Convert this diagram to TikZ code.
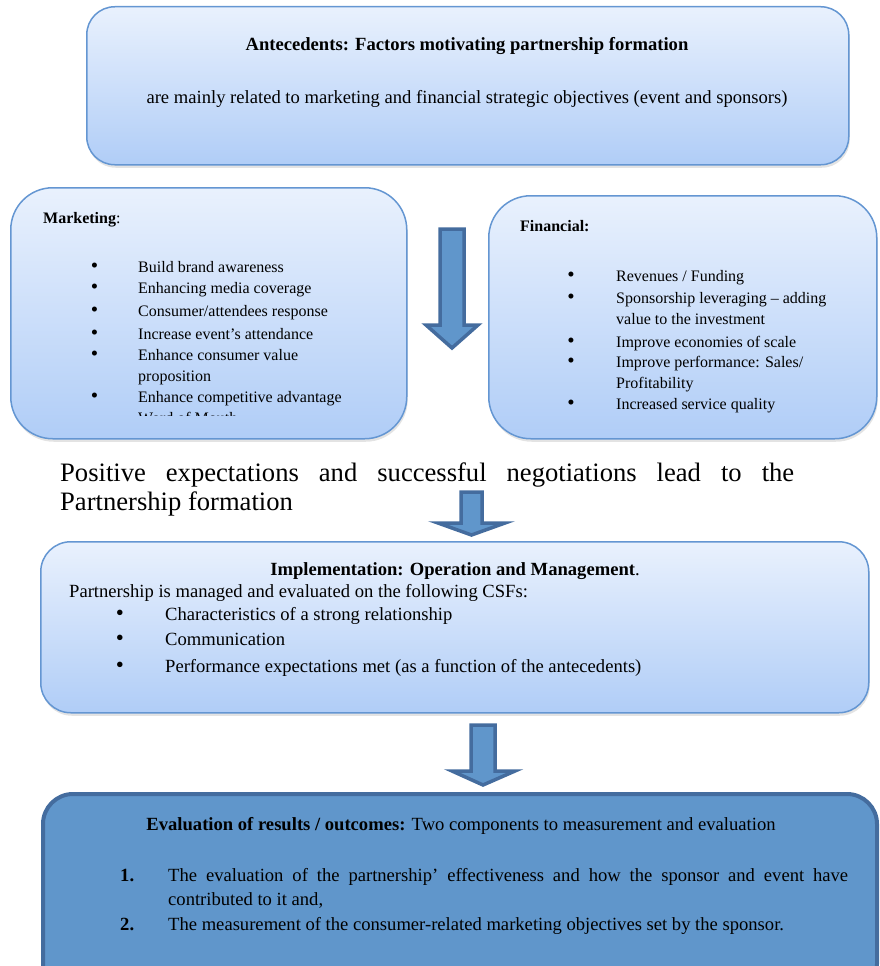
\documentclass[tikz,border=0pt]{standalone}
\usepackage{fontspec}
\setmainfont{Liberation Serif}
\usetikzlibrary{shadows}
\definecolor{lbtop}{RGB}{233,241,253}
\definecolor{lbbot}{RGB}{176,205,247}
\definecolor{lbedge}{RGB}{100,150,210}
\definecolor{dbfill}{RGB}{96,150,203}
\definecolor{dbedge}{RGB}{68,108,158}
\tikzset{
  lightbox/.style={draw=lbedge, line width=1.5pt, top color=lbtop, bottom color=lbbot,
    drop shadow={opacity=0.22, shadow xshift=1pt, shadow yshift=-3pt},
    anchor=north west, inner sep=0pt},
  darkbox/.style={draw=dbedge, line width=4pt, fill=dbfill, anchor=north west, inner sep=0pt},
  blockarrow/.style={fill=dbfill, draw=dbedge, line width=3.5pt, line join=miter},
  txt/.style={inner sep=0pt, anchor=base west},
  ctxt/.style={inner sep=0pt, anchor=base},
  bul/.style={inner sep=0pt, anchor=base},
  listfont/.style={font=\fontsize{16}{19}\selectfont},
  bodyfont/.style={font=\fontsize{18.6}{22}\selectfont},
  boldfont/.style={font=\fontsize{18.6}{22}\selectfont\bfseries},
  bulfont/.style={font=\fontsize{21}{22}\selectfont},
}
\begin{document}
\begin{tikzpicture}[x=1pt,y=-1pt]
\useasboundingbox (0,0) rectangle (880,966);

% ---------- boxes ----------
\node[lightbox, rounded corners=28pt, minimum width=762pt, minimum height=158pt] (ante) at (86,6) {};
\node[lightbox, rounded corners=42pt, minimum width=396pt, minimum height=251pt] (mkt) at (10,187) {};
\node[lightbox, rounded corners=42pt, minimum width=388pt, minimum height=243pt] (fin) at (488,195) {};
\node[lightbox, rounded corners=30pt, minimum width=828pt, minimum height=171pt] (impl) at (40,541) {};
\node[darkbox, rounded corners=30pt, minimum width=834pt, minimum height=200pt] (eval) at (41,792) {};

% ---------- block arrows ----------
\draw[blockarrow] (440,229) -- (464,229) -- (464,325) -- (478,325) -- (452,348) -- (426,325) -- (440,325) -- cycle;
\draw[blockarrow] (461,492) -- (482,492) -- (482,523) -- (505,523) -- (471.5,535) -- (438,523) -- (461,523) -- cycle;
\draw[blockarrow] (471,725) -- (495,725) -- (495,771) -- (515,771) -- (483,785) -- (452,771) -- (471,771) -- cycle;

% ---------- antecedents ----------
\node[ctxt, boldfont] (antetitle) at (467,51) {Antecedents: Factors motivating partnership formation};
\node[ctxt, bodyfont] (antesub) at (467,103) {are mainly related to marketing and financial strategic objectives (event and sponsors)};

% ---------- marketing ----------
\node[txt, font=\fontsize{16}{18}\selectfont] (mkttitle) at (43,223) {\textbf{Marketing}:};
\foreach \y/\t [count=\i] in {272/{Build brand awareness}, 293/{Enhancing media coverage}, 316/{Consumer/attendees response}, 339/{Increase event’s attendance}, 360/{Enhance consumer value}, 402/{Enhance competitive advantage}}{
  \node[bul, bulfont] (mb\i) at (94.5,\y) {•};
  \node[txt, listfont] (mi\i) at (138,\y) {\t};
}
\node[txt, listfont] (mi5b) at (138,381) {proposition};
\begin{scope}
\clip (0,180) rectangle (420,415.5);
\node[txt, listfont] (mi7) at (138,423) {Word of Mouth};
\end{scope}

% ---------- financial ----------
\node[txt, font=\fontsize{16}{18}\selectfont\bfseries] (fintitle) at (520,231) {Financial:};
\foreach \y/\t [count=\i] in {281/{Revenues / Funding}, 303/{Sponsorship leveraging – adding}, 347/{Improve economies of scale}, 367/{Improve performance: Sales/}, 409/{Increased service quality}}{
  \node[bul, bulfont] (fb\i) at (571,\y) {•};
  \node[txt, listfont] (fi\i) at (616,\y) {\t};
}
\node[txt, listfont] (fi2b) at (616,324) {value to the investment};
\node[txt, listfont] (fi4b) at (616,388) {Profitability};

% ---------- positive expectations ----------
\node[txt] (posit) at (60,481) {\parbox[t]{734pt}{\fontsize{26.6}{29}\selectfont Positive expectations and successful negotiations lead to the\linebreak Partnership formation}};

% ---------- implementation ----------
\node[ctxt, bodyfont] (impltitle) at (455,575) {\textbf{Implementation: Operation and Management}.};
\node[txt, bodyfont] (implsub) at (69,597) {Partnership is managed and evaluated on the following CSFs:};
\foreach \y/\t [count=\i] in {620/{Characteristics of a strong relationship}, 645/{Communication}, 672/{Performance expectations met (as a function of the antecedents)}}{
  \node[bul, font=\fontsize{23}{22}\selectfont] (ib\i) at (120,\y) {•};
  \node[txt, bodyfont] (ii\i) at (165,\y) {\t};
}

% ---------- evaluation ----------
\node[ctxt, bodyfont] (evaltitle) at (461,830) {\textbf{Evaluation of results / outcomes:} Two components to measurement and evaluation};
\node[txt, boldfont] (en1) at (120,881) {1.};
\node[txt] (et1) at (168,881) {\parbox[t]{680pt}{\fontsize{18.6}{24}\selectfont The evaluation of the partnership’ effectiveness and how the sponsor and event have\linebreak contributed to it and,}};
\node[txt, boldfont] (en2) at (120,930) {2.};
\node[txt, bodyfont] (et2) at (168,930) {The measurement of the consumer-related marketing objectives set by the sponsor.};
\end{tikzpicture}
\end{document}
